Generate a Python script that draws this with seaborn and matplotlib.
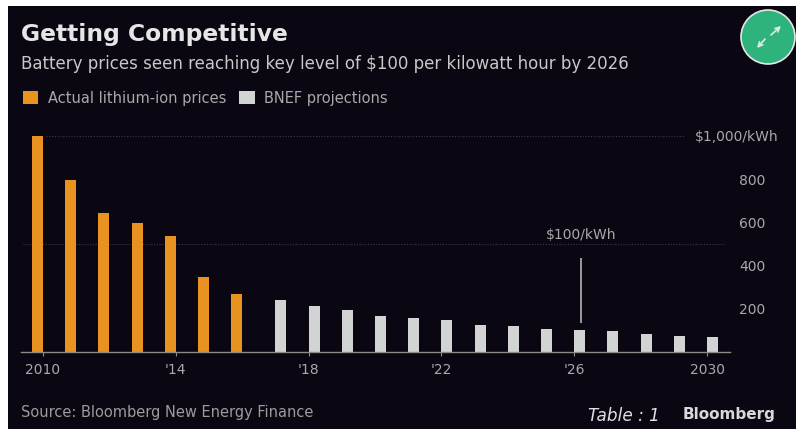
import matplotlib
matplotlib.use("Agg")
import matplotlib.pyplot as plt
from matplotlib.patches import Rectangle, Ellipse
import pandas as pd
import seaborn as sns

years = [str(y) for y in range(2010, 2031)]
actual = [1000, 796, 645, 597, 538, 349, 270] + [None] * 14
projected = [None] * 7 + [242, 214, 193, 168, 156, 147, 126, 119, 108, 100, 96, 82, 75, 71]
series_names = ["Actual lithium-ion prices", "BNEF projections"]
x_tick_labels = {"2010": "2010", "2014": "'14", "2018": "'18", "2022": "'22", "2026": "'26", "2030": "2030"}
y_tick_values = [200, 400, 600, 800, 1000]
y_tick_labels = ["200", "400", "600", "800", "$1,000/kWh"]

W, H = 796, 429
BG = "#0a0612"
ORANGE = "#e8921f"
LIGHT = "#d2d3d3"
TXT = "#a9a9a9"

sns.set_theme(style="dark")
plt.rcParams["font.family"] = ["DejaVu Sans"]

df = pd.DataFrame({
    "year": years * 2,
    "series": [series_names[0]] * 21 + [series_names[1]] * 21,
    "price": actual + projected,
})

def fx(px):
    return px / W

def fy(py):
    return 1 - py / H

fig = plt.figure(figsize=(W / 100, H / 100), dpi=100, facecolor="white")
fig.patches.append(Rectangle((fx(8), 0), 1 - fx(8), fy(6), transform=fig.transFigure,
                             facecolor=BG, edgecolor="none", zorder=-5))
fig.patches.append(Ellipse((fx(768), fy(37)), 54 / W, 54 / H, transform=fig.transFigure,
                           facecolor="#2fb37c", edgecolor="#e8e8e8", linewidth=1.2, zorder=-1))

ax = fig.add_axes([fx(21), fy(352), (730 - 21) / W, 218.2 / H])
ax.patch.set_alpha(0)
sns.barplot(data=df, x="year", y="price", hue="series", order=years, hue_order=series_names,
            palette=[ORANGE, LIGHT], width=0.66, gap=0, dodge=True, saturation=1, ax=ax,
            legend=True, linewidth=0)

ax.set_xlim(-0.66, 20.69)
ax.set_ylim(0, 1010)
ax.set_xlabel("")
ax.set_ylabel("")
ax.grid(False)
for side in ["top", "left", "right"]:
    ax.spines[side].set_visible(False)
ax.spines["bottom"].set_color("#8f8b86")
ax.spines["bottom"].set_linewidth(1.0)

ax.set_xticks([years.index(k) for k in x_tick_labels])
ax.set_xticklabels(list(x_tick_labels.values()))
ax.tick_params(axis="x", colors="#8f8f8f", labelcolor=TXT, length=3, width=0.8, pad=5, labelsize=10,
               bottom=True)

ax.yaxis.tick_right()
ax.set_yticks(y_tick_values)
ax.set_yticklabels(y_tick_labels)
ax.tick_params(axis="y", length=0, labelcolor=TXT, labelsize=10)
for tick, pad in zip(ax.yaxis.get_major_ticks(), [6.5, 6.5, 6.5, 6.5, -25.2]):
    tick.set_pad(pad)

ax.hlines(1000, 0.1, 19.3, colors="#3a3840", linewidth=0.8, linestyles=(0, (1, 1.5)), zorder=0)
ax.hlines(500, -0.6, 20.5, colors="#3a3840", linewidth=0.8, linestyles=(0, (1, 1.5)), zorder=0)

ax.vlines(16.2, 134, 435, colors="#b4b4b4", linewidth=1.2)
ax.text(16.2, 542, "$100/kWh", ha="center", va="center", color=TXT, fontsize=10)

handles, labels = ax.get_legend_handles_labels()
ax.get_legend().remove()
fig.legend(handles, labels, loc="center left", bbox_to_anchor=(fx(10), fy(98)), ncols=2, frameon=False,
           fontsize=10.5, labelcolor=TXT, handlelength=1.05, handleheight=1.05, handletextpad=0.65,
           columnspacing=0.9)

fig.text(fx(21), fy(35), "Getting Competitive", color="#e6e6e6", fontsize=16.8, fontweight="bold",
         ha="left", va="center")
fig.text(fx(21), fy(64), "Battery prices seen reaching key level of $100 per kilowatt hour by 2026",
         color="#c8c8c8", fontsize=12, ha="left", va="center")
fig.text(fx(21), fy(413), "Source: Bloomberg New Energy Finance", color="#9c9c9c", fontsize=10.5,
         ha="left", va="center")
fig.text(fx(588), fy(416), "Table : 1", color="#e0e0e0", fontsize=12.2, fontstyle="italic",
         ha="left", va="center")
fig.text(fx(683), fy(415), "Bloomberg", color="#d8d8d8", fontsize=11, fontweight="bold",
         ha="left", va="center")

for start, end in [((771, 35), (781, 26)), ((765, 39), (757, 48))]:
    ax.annotate("", xy=(fx(end[0]), fy(end[1])), xytext=(fx(start[0]), fy(start[1])),
                xycoords="figure fraction", textcoords="figure fraction", annotation_clip=False,
                arrowprops=dict(arrowstyle="->", color="#d8efe4", lw=1.2, shrinkA=0, shrinkB=0,
                                mutation_scale=8), zorder=6)

fig.savefig("out.png", dpi=100, facecolor="white")
